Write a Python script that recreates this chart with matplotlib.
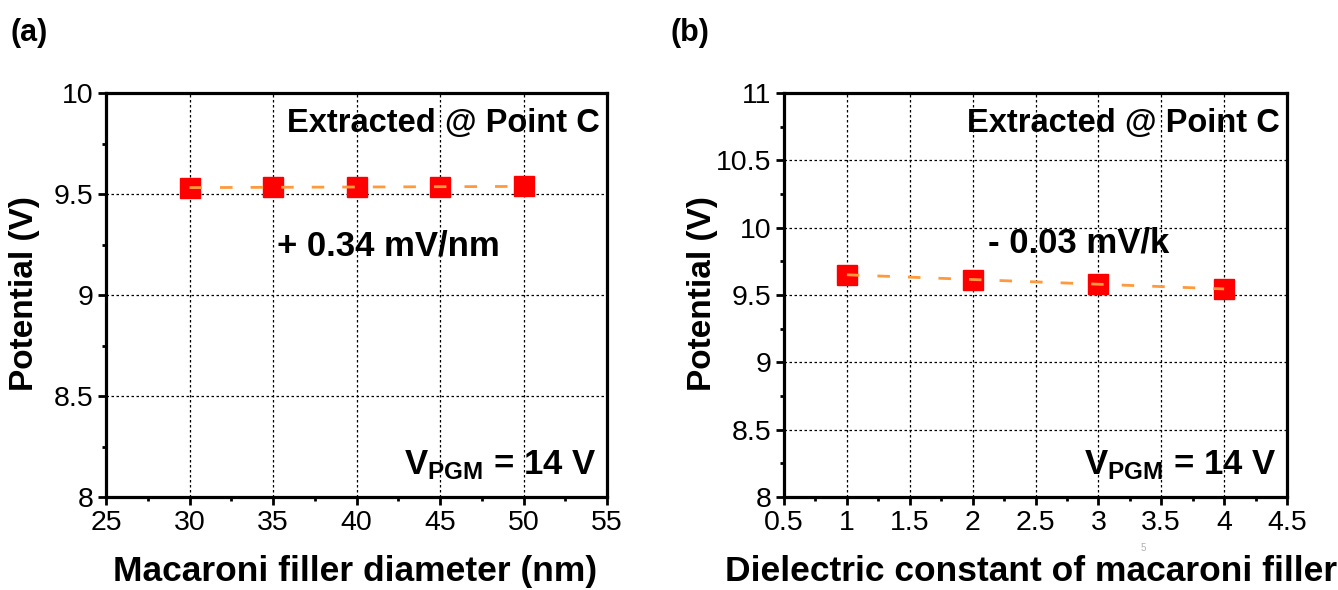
import numpy as np
import matplotlib
matplotlib.use("Agg")
import matplotlib.pyplot as plt
from matplotlib.ticker import MultipleLocator, FuncFormatter

plt.rcParams['font.family'] = ['Liberation Sans', 'DejaVu Sans']
plt.rcParams['mathtext.fontset'] = 'custom'
plt.rcParams['mathtext.rm'] = 'Liberation Sans'
plt.rcParams['mathtext.bf'] = 'Liberation Sans:bold'

# data (a)
diam = [30, 35, 40, 45, 50]
pot_a = [9.532, 9.533, 9.534, 9.536, 9.538]
# data (b)
kval = [1, 2, 3, 4]
pot_b = [9.650, 9.615, 9.580, 9.545]

fig = plt.figure(figsize=(13.38, 5.9), dpi=100)
W, H = 1338, 590


def fmt(v, pos):
    s = ('%.1f' % v)
    return s[:-2] if s.endswith('.0') else s


def panel(rect, x, y, xlim, ylim, xmaj, ymaj, slope_txt, slope_xy):
    l, t, r, b = rect
    ax = fig.add_axes([l / W, 1 - b / H, (r - l) / W, (b - t) / H])
    ax.set_xlim(*xlim)
    ax.set_ylim(*ylim)
    ax.xaxis.set_major_locator(MultipleLocator(xmaj))
    ax.xaxis.set_minor_locator(MultipleLocator(xmaj / 2))
    ax.yaxis.set_major_locator(MultipleLocator(ymaj))
    ax.yaxis.set_minor_locator(MultipleLocator(ymaj / 2))
    ax.xaxis.set_major_formatter(FuncFormatter(fmt))
    ax.yaxis.set_major_formatter(FuncFormatter(fmt))
    ax.tick_params(which='major', direction='out', length=6, width=2, labelsize=20.5, pad=3)
    ax.tick_params(which='minor', direction='out', length=3, width=2)
    ax.tick_params(top=False, right=False)
    for s in ax.spines.values():
        s.set_linewidth(2.3)
    ax.grid(True, which='major', color='black', linestyle=(0, (2, 2)), linewidth=0.9)
    ax.set_axisbelow(True)

    # linear fit
    p = np.polyfit(x, y, 1)
    xf = np.array([x[0], x[-1]])
    ax.plot(x, y, linestyle='none', marker='s', markersize=14.5, color='red', zorder=3)
    ax.plot(xf, np.polyval(p, xf), color='#ff9a3c', linestyle=(0, (4.5, 6.5)), linewidth=2, zorder=4)

    ax.text(0.986, 0.9035, 'Extracted @ Point C', transform=ax.transAxes,
            ha='right', va='baseline', fontsize=23.5, fontweight='bold')
    ax.text(slope_xy[0], slope_xy[1], slope_txt, transform=ax.transAxes,
            ha='center', va='baseline', fontsize=25, fontweight='bold')
    ax.text(0.98, 0.057, r'$\mathbf{V_{PGM}}$ = 14 V', transform=ax.transAxes,
            ha='right', va='baseline', fontsize=25, fontweight='bold')
    return ax


ax1 = panel((106, 93, 607, 497), diam, pot_a, (25, 55), (8, 10), 5, 0.5,
            '+ 0.34 mV/nm', (0.564, 0.599))
ax2 = panel((784, 93, 1287, 497), kval, pot_b, (0.5, 4.5), (8, 11), 0.5, 0.5,
            '- 0.03 mV/k', (0.586, 0.606))

# axis titles
fig.text(355 / W, 1 - 581 / H, 'Macaroni filler diameter (nm)', fontsize=25.5,
         fontweight='bold', ha='center', va='baseline')
fig.text(1031 / W, 1 - 581 / H, 'Dielectric constant of macaroni filler', fontsize=25.5,
         fontweight='bold', ha='center', va='baseline')
fig.text(25 / W, 1 - 294 / H, 'Potential (V)', fontsize=24, fontweight='bold',
         rotation=90, ha='center', va='center')
fig.text(703 / W, 1 - 294 / H, 'Potential (V)', fontsize=24, fontweight='bold',
         rotation=90, ha='center', va='center')

fig.text(10 / W, 1 - 41 / H, '(a)', fontsize=22, fontweight='bold', va='baseline', ha='left')
fig.text(670 / W, 1 - 41 / H, '(b)', fontsize=22, fontweight='bold', va='baseline', ha='left')
# page number
fig.text(1143 / W, 1 - 548 / H, '5', fontsize=7, color='#b0b0b0', ha='center', va='center')

fig.savefig('out.png', dpi=100)
